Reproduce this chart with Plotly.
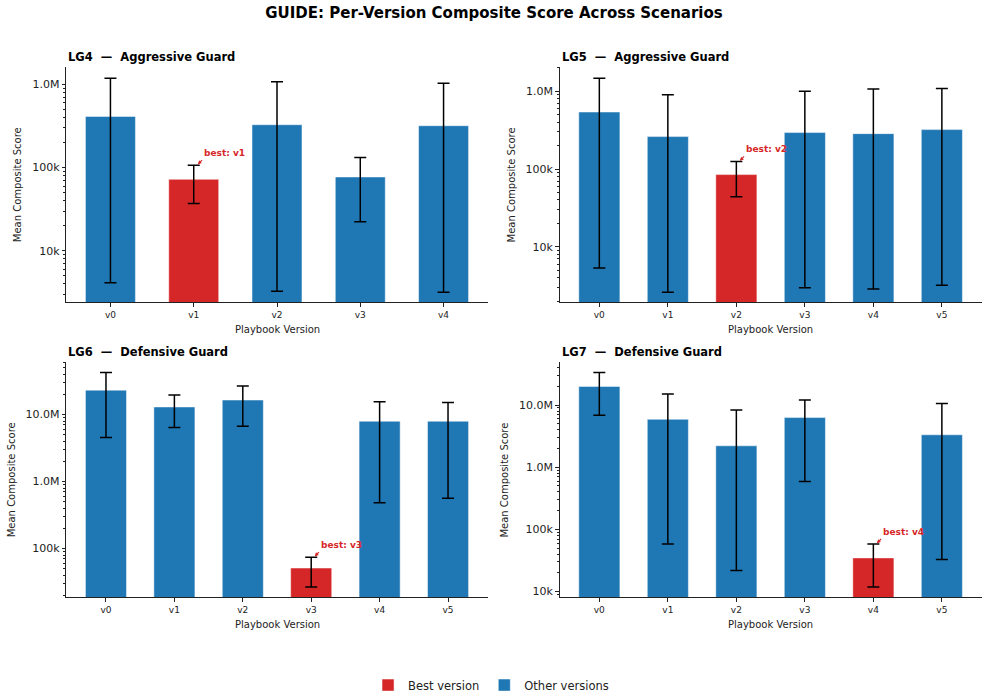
import numpy as np
import plotly.graph_objects as go

# ---------------- data ----------------
panel_titles = ["LG4\u00a0\u00a0\u2014\u00a0\u00a0Aggressive Guard",
                "LG5\u00a0\u00a0\u2014\u00a0\u00a0Aggressive Guard",
                "LG6\u00a0\u00a0\u2014\u00a0\u00a0Defensive Guard",
                "LG7\u00a0\u00a0\u2014\u00a0\u00a0Defensive Guard"]

lg4_versions = ["v0", "v1", "v2", "v3", "v4"]
lg4_mean = [411e3, 72.3e3, 327e3, 77.1e3, 318e3]
lg4_err_hi = [1.18e6, 107e3, 1.07e6, 132e3, 1.03e6]
lg4_err_lo = [4150, 37.1e3, 3270, 22.4e3, 3190]
lg4_best = "v1"

lg5_versions = ["v0", "v1", "v2", "v3", "v4", "v5"]
lg5_mean = [540e3, 261e3, 84.8e3, 294e3, 285e3, 321e3]
lg5_err_hi = [1.47e6, 898e3, 125e3, 1.0e6, 1.07e6, 1.08e6]
lg5_err_lo = [5350, 2610, 44e3, 2970, 2880, 3210]
lg5_best = "v2"

lg6_versions = ["v0", "v1", "v2", "v3", "v4", "v5"]
lg6_mean = [23.2e6, 13.0e6, 16.5e6, 51.1e3, 7.96e6, 7.96e6]
lg6_err_hi = [42.5e6, 19.6e6, 26.7e6, 74.3e3, 15.6e6, 15.2e6]
lg6_err_lo = [4.55e6, 6.41e6, 6.71e6, 26.7e3, 482e3, 565e3]
lg6_best = "v3"

lg7_versions = ["v0", "v1", "v2", "v3", "v4", "v5"]
lg7_mean = [19.9e6, 5.9e6, 2.21e6, 6.28e6, 34.8e3, 3.32e6]
lg7_err_hi = [33.3e6, 15.0e6, 8.32e6, 12.0e6, 58.3e3, 10.6e6]
lg7_err_lo = [6.84e6, 58.3e3, 21.8e3, 590e3, 11.9e3, 32.7e3]
lg7_best = "v4"

panels = [
    (lg4_versions, lg4_mean, lg4_err_hi, lg4_err_lo, lg4_best),
    (lg5_versions, lg5_mean, lg5_err_hi, lg5_err_lo, lg5_best),
    (lg6_versions, lg6_mean, lg6_err_hi, lg6_err_lo, lg6_best),
    (lg7_versions, lg7_mean, lg7_err_hi, lg7_err_lo, lg7_best),
]

# ---------------- layout geometry ----------------
W, H = 988, 700
BEST_C = "#d62728"
OTHER_C = "#1f77b4"
FONT = "DejaVu Sans"

xdoms = [(66.3 / W, 487.7 / W), (559.6 / W, 981.6 / W)]
ydoms = [(1 - 304.2 / H, 1 - 67.8 / H), (1 - 600.7 / H, 1 - 364.0 / H)]
yranges = [(3.380, 6.203), (3.285, 6.306), (4.272, 7.787), (3.909, 7.693)]
ytitle_x = [18.3, 511.5, 11.7, 505.0]

fig = go.Figure()
annotations = []

for i, (vers, mean, hi, lo, best) in enumerate(panels):
    r, c = divmod(i, 2)
    xa = "x" if i == 0 else f"x{i+1}"
    ya = "y" if i == 0 else f"y{i+1}"
    mean = np.array(mean)
    hi = np.array(hi)
    lo = np.array(lo)
    is_best = np.array([v == best for v in vers])
    for flag, name, col in [(True, "Best version", BEST_C), (False, "Other versions", OTHER_C)]:
        m = is_best == flag
        fig.add_trace(go.Bar(
            x=[v for v, k in zip(vers, m) if k],
            y=mean[m],
            width=0.6,
            name=name,
            legendgroup=name,
            showlegend=(i == 0),
            marker=dict(color=col, line=dict(color="rgba(255,255,255,0.6)", width=0.8)),
            error_y=dict(type="data", symmetric=False,
                         array=hi[m] - mean[m], arrayminus=mean[m] - lo[m],
                         color="black", thickness=1.5, width=6),
            xaxis=xa, yaxis=ya,
        ))

    n = len(vers)
    axis_common = dict(showline=True, linecolor="#222", linewidth=1, ticks="outside",
                       ticklen=3.5, tickwidth=1, tickcolor="#222", showgrid=False,
                       zeroline=False)
    fig.update_layout(**{
        ("xaxis" if i == 0 else f"xaxis{i+1}"): dict(
            domain=xdoms[c], anchor=ya, type="category",
            categoryorder="array", categoryarray=vers,
            range=[-0.3 - 0.05 * (n - 0.4), n - 0.7 + 0.05 * (n - 0.4)],
            tickfont=dict(family=FONT, size=9, color="#222"), **axis_common),
        ("yaxis" if i == 0 else f"yaxis{i+1}"): dict(
            domain=ydoms[r], anchor=xa, type="log", range=list(yranges[i]),
            tickmode="linear", tick0=0, dtick=1,
            labelalias={"1M": "1.0M", "10M": "10.0M"},
            tickfont=dict(family=FONT, size=11, color="#222"),
            minor=dict(dtick="D1", ticks="outside", ticklen=2,
                       tickwidth=0.8, tickcolor="#222", showgrid=False),
            **axis_common),
    })

    # best-version arrow annotation
    bi = vers.index(best)
    annotations.append(dict(
        x=bi + 0.04, y=float(np.log10(hi[bi])), xref=xa, yref=ya,
        text="<b>best: %s</b>" % best, showarrow=True,
        ax=5, ay=-5, xanchor="left", yanchor="bottom",
        arrowhead=2, arrowsize=0.7, arrowwidth=1.1, arrowcolor=BEST_C,
        standoff=1, font=dict(family=FONT, size=9, color=BEST_C),
    ))
    # panel title
    annotations.append(dict(
        x=xdoms[c][0], y=ydoms[r][1] + 1 / H, xref="paper", yref="paper",
        text="<b>%s</b>" % panel_titles[i], showarrow=False,
        xanchor="left", yanchor="bottom",
        font=dict(family=FONT, size=11.5, color="black"),
    ))
    # axis titles
    annotations.append(dict(
        x=(xdoms[c][0] + xdoms[c][1]) / 2, y=ydoms[r][0] - 20 / H,
        xref="paper", yref="paper", text="Playbook Version", showarrow=False,
        xanchor="center", yanchor="top",
        font=dict(family=FONT, size=10, color="#222"),
    ))
    annotations.append(dict(
        x=ytitle_x[i] / W, y=(ydoms[r][0] + ydoms[r][1]) / 2,
        xref="paper", yref="paper", text="Mean Composite Score", showarrow=False,
        textangle=-90, xanchor="center", yanchor="middle",
        font=dict(family=FONT, size=10, color="#222"),
    ))

fig.update_layout(
    width=W, height=H,
    margin=dict(l=0, r=0, t=0, b=0),
    paper_bgcolor="white", plot_bgcolor="white",
    barmode="overlay",
    title=dict(text="<b>GUIDE: Per-Version Composite Score Across Scenarios</b>",
               x=0.5, xanchor="center", y=1 - 13 / H, yanchor="middle",
               font=dict(family=FONT, size=15, color="black")),
    font=dict(family=FONT),
    showlegend=True,
    legend=dict(orientation="h", x=0.497, xanchor="center", y=1 - 689 / H, yanchor="middle",
                font=dict(family=FONT, size=11.5, color="#222"),
                itemwidth=30, traceorder="normal"),
    annotations=annotations,
)

fig.write_html("out.html")
